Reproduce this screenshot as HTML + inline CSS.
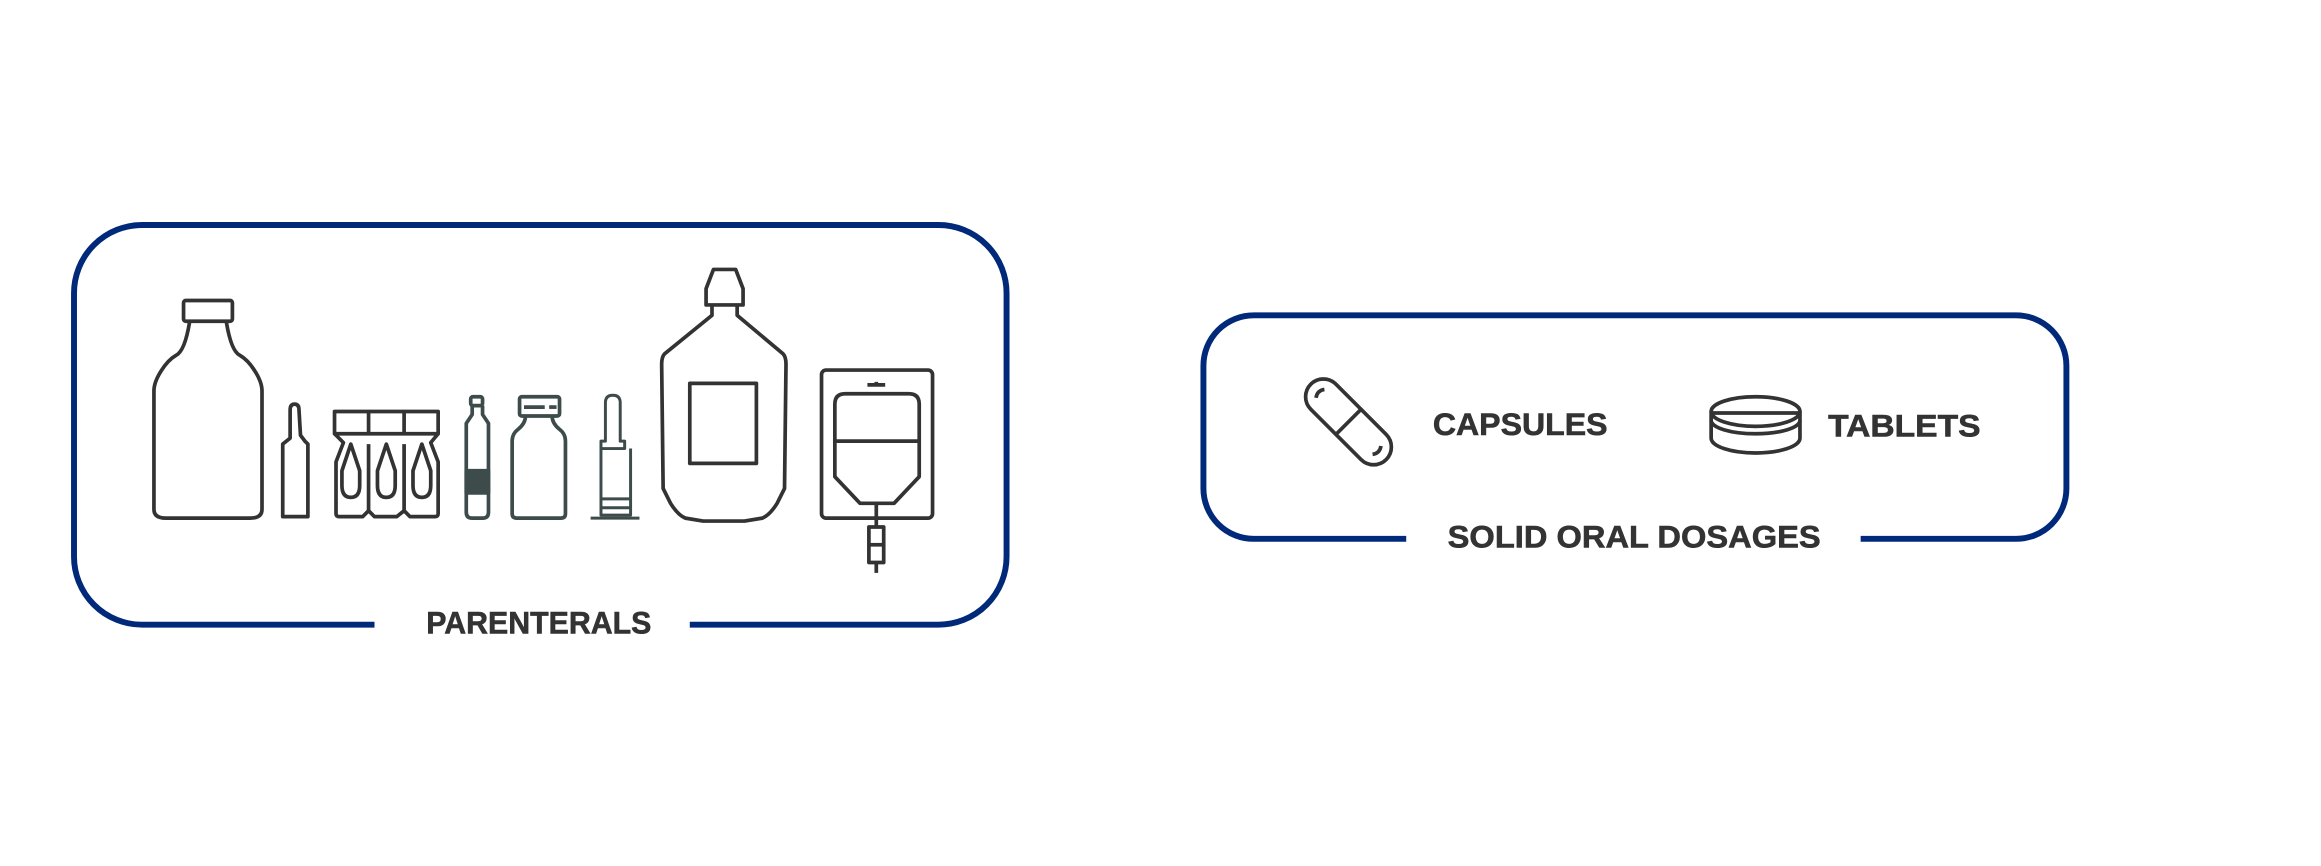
<!DOCTYPE html>
<html><head><meta charset="utf-8"><style>
html,body{margin:0;padding:0;background:#fff;}
svg{display:block;}
</style></head><body>
<svg width="2321" height="866" viewBox="0 0 1568 585" preserveAspectRatio="none" xmlns="http://www.w3.org/2000/svg">
<g fill="none" stroke="#00297a" stroke-width="4">
<path d="M253,422 H96 A46,46 0 0 1 50,376 V198 A46,46 0 0 1 96,152 H634 A46,46 0 0 1 680,198 V376 A46,46 0 0 1 634,422 H466"/>
<path d="M950,364 H847 A34,34 0 0 1 813,330 V247 A34,34 0 0 1 847,213 H1362 A34,34 0 0 1 1396,247 V330 A34,34 0 0 1 1362,364 H1257"/>
</g>
<g font-family="Liberation Sans, sans-serif" font-weight="bold" fill="#333" font-size="21" stroke="#333" stroke-width="0.4">
<text x="288" y="428" textLength="152" lengthAdjust="spacingAndGlyphs">PARENTERALS</text>
<text x="978" y="370" textLength="252" lengthAdjust="spacingAndGlyphs">SOLID ORAL DOSAGES</text>
<text x="968" y="294" textLength="118" lengthAdjust="spacingAndGlyphs">CAPSULES</text>
<text x="1235" y="295" textLength="103" lengthAdjust="spacingAndGlyphs">TABLETS</text>
</g>
<g fill="none" stroke="#333" stroke-width="2.5" stroke-linejoin="round">
<rect x="124" y="203" width="33" height="14" rx="1.5"/>
<path d="M128,218 C126,230 123,238 119,240 C112,244 104,256 104,264 V344 Q104,350 112,350 H169 Q177,350 177,344 V264 C177,256 169,244 162,240 C158,238 155,230 153,218"/>
<path d="M196,277 Q196,273 199,273 Q202,273 202,277 L203,294 L206,298 L208,300 V349 H191 V300 L196,296 Z"/>
<rect x="226" y="278" width="70" height="15"/>
<line x1="249" y1="278" x2="249" y2="293"/><line x1="273" y1="278" x2="273" y2="293"/>
<path d="M226,293 L232,299 L227,312 V347 Q227,349 229,349 H245 L249,345 L253,349 H268 L273,345 L277,349 H294 Q296,349 296,347 V312 L291,299 L296,293"/>
<path d="M237,300 L243,318 V328 Q243,336 237,336 Q231,336 231,328 V318 Z"/>
<path d="M261,300 L267,318 V328 Q267,336 261,336 Q255,336 255,328 V318 Z"/>
<path d="M285,300 L291,318 V328 Q291,336 285,336 Q279,336 279,328 V318 Z"/>
<path d="M249,300 V345 M273,300 V345"/>
<g stroke="#3d4b4b">
<rect x="318" y="268" width="8" height="6" rx="1.5"/>
<path d="M319,274 V280 L315,286 V346 Q315,350 319,350 H326 Q330,350 330,346 V286 L326,280 V274"/>
<rect x="315" y="318" width="15" height="15" fill="#3d4b4b"/>
<rect x="351" y="268" width="27" height="13" rx="1.5"/>
<line x1="354" y1="275" x2="368" y2="275"/><line x1="371" y1="275" x2="376" y2="275"/>
<path d="M355,281 Q355,286 350,290 Q346,293 346,298 V347 Q346,350 349,350 H379 Q382,350 382,347 V298 Q382,293 378,290 Q373,286 373,281"/>
<path d="M409,298 V272 Q409,267 414,267 Q419,267 419,272 V298 H422 V303 H406 V298 Z" stroke-width="2"/>
<path d="M406,303 V348 H426 V303" stroke-width="2"/>
<line x1="406" y1="337" x2="426" y2="337" stroke-width="2"/><line x1="406" y1="343" x2="426" y2="343" stroke-width="2"/>
<line x1="399" y1="350" x2="432" y2="350" stroke-width="2"/>
</g>
<path d="M477,206 V195 L482,182 H497 L502,195 V206 Z"/>
<path d="M481,206 V213 L449,239 Q447,241 447,246 L448,330 L453,340 Q458,348 463,350 L475,352 H503 L515,350 Q520,348 525,340 L530,330 L531,246 Q531,241 529,239 L498,213 V206"/>
<rect x="466" y="259" width="45" height="54"/>
<rect x="555" y="250" width="75" height="100" rx="3"/>
<path d="M586,260 H598 M592,258 V260" stroke-width="2.5"/>
<path d="M564,273 Q564,266 571,266 H614 Q621,266 621,273 V322 L604,340 H581 L564,322 Z"/>
<line x1="564" y1="298" x2="621" y2="298"/>
<line x1="592" y1="340" x2="592" y2="356"/>
<rect x="587" y="356" width="10" height="24"/>
<line x1="587" y1="368" x2="597" y2="368"/>
<line x1="592" y1="380" x2="592" y2="387"/>
<g transform="translate(911,285) rotate(-45)">
<rect x="-12" y="-36" width="24" height="72" rx="12"/>
<line x1="-12" y1="0" x2="12" y2="0"/>
<path d="M-4,-27 Q0,-30 4,-27 M-4,27 Q0,30 4,27"/>
</g>
<ellipse cx="1186" cy="278" rx="30" ry="10"/>
<line x1="1156" y1="279" x2="1216" y2="279"/>
<path d="M1156,278 V296 A30,10 0 0 0 1216,296 V278"/>
<path d="M1156,284 A30,9 0 0 0 1216,284"/>
</g>
</svg>
</body></html>
